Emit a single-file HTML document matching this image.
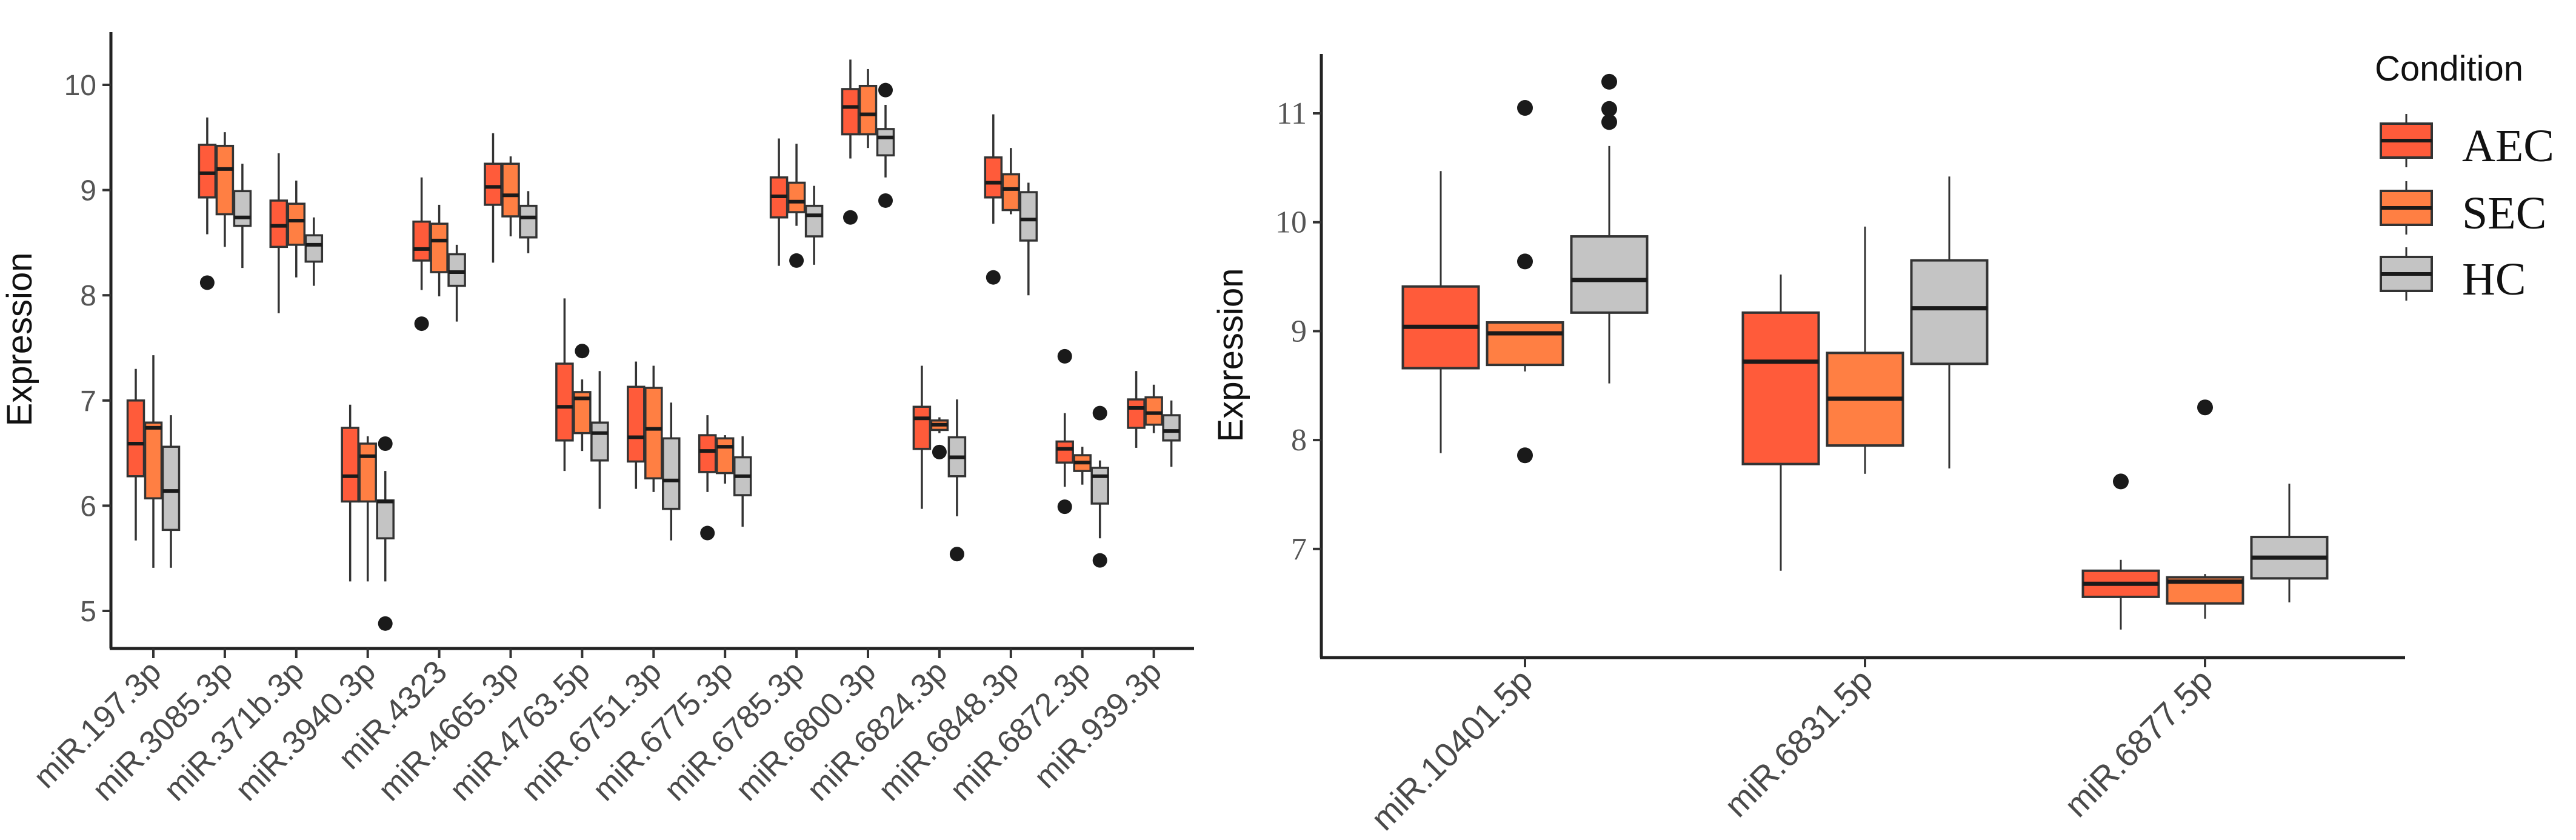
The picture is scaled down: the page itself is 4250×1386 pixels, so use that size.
<!DOCTYPE html>
<html><head><meta charset="utf-8"><style>
html,body{margin:0;padding:0;background:#fff}
svg{display:block}
</style></head><body>
<svg id="chart" width="4250" height="1386" viewBox="0 0 4250 1386" xmlns="http://www.w3.org/2000/svg">
<rect x="0" y="0" width="4250" height="1386" fill="#fff"/>
<g id="left"></g>
<g id="right"></g>
<g id="legend"></g>
</svg>
<script>
// ---- data (values: [lowWhisker, q1, median, q3, highWhisker]) ----
const conditions = ["AEC","SEC","HC"];
const leftCategories = ["miR.197.3p","miR.3085.3p","miR.371b.3p","miR.3940.3p","miR.4323","miR.4665.3p","miR.4763.5p","miR.6751.3p","miR.6775.3p","miR.6785.3p","miR.6800.3p","miR.6824.3p","miR.6848.3p","miR.6872.3p","miR.939.3p"];
const leftAEC = [[5.67,6.28,6.59,7.0,7.30],[8.58,8.93,9.16,9.43,9.69],[7.83,8.46,8.66,8.90,9.35],[5.28,6.04,6.28,6.74,6.96],[8.05,8.33,8.44,8.70,9.12],[8.31,8.86,9.03,9.25,9.54],[6.33,6.62,6.94,7.35,7.97],[6.16,6.42,6.65,7.13,7.37],[6.13,6.32,6.52,6.67,6.86],[8.28,8.74,8.94,9.12,9.49],[9.30,9.53,9.79,9.96,10.24],[5.97,6.54,6.83,6.94,7.33],[8.68,8.93,9.07,9.31,9.72],[6.18,6.41,6.54,6.61,6.88],[6.55,6.74,6.93,7.01,7.28]];
const leftSEC = [[5.41,6.07,6.74,6.79,7.43],[8.46,8.77,9.20,9.42,9.55],[8.17,8.48,8.71,8.87,9.09],[5.28,6.04,6.47,6.59,6.66],[7.99,8.22,8.52,8.68,8.86],[8.56,8.75,8.95,9.25,9.32],[6.52,6.69,7.02,7.08,7.20],[6.13,6.26,6.73,7.12,7.33],[6.21,6.31,6.56,6.64,6.67],[8.66,8.79,8.89,9.07,9.44],[9.40,9.53,9.72,9.99,10.15],[6.69,6.72,6.77,6.81,6.84],[8.77,8.81,9.01,9.15,9.40],[6.20,6.33,6.41,6.48,6.56],[6.69,6.77,6.88,7.03,7.15]];
const leftHC = [[5.41,5.77,6.14,6.56,6.86],[8.26,8.66,8.74,8.99,9.25],[8.09,8.32,8.48,8.57,8.74],[5.28,5.69,6.04,6.05,6.33],[7.75,8.09,8.22,8.39,8.48],[8.40,8.55,8.74,8.85,8.99],[5.97,6.43,6.69,6.79,7.28],[5.67,5.97,6.24,6.64,6.98],[5.80,6.10,6.28,6.46,6.66],[8.29,8.56,8.76,8.85,9.04],[9.12,9.33,9.50,9.58,9.81],[5.90,6.28,6.46,6.65,7.01],[8.00,8.52,8.72,8.98,9.07],[5.69,6.02,6.28,6.36,6.43],[6.37,6.62,6.71,6.86,7.00]];
const leftOutAEC = [[],[8.12],[],[],[7.73],[],[],[],[5.74],[],[8.74],[],[8.17],[7.42,5.99],[]];
const leftOutSEC = [[],[],[],[],[],[],[7.47],[],[],[8.33],[],[6.51],[],[],[]];
const leftOutHC = [[],[],[],[6.59,4.88],[],[],[],[],[],[],[9.95,8.90],[5.54],[],[6.88,5.48],[]];
const leftTicks = [5,6,7,8,9,10];

const rightCategories = ["miR.10401.5p","miR.6831.5p","miR.6877.5p"];
const rightAEC = [[7.88,8.66,9.04,9.41,10.47],[6.80,7.78,8.72,9.17,9.52],[6.26,6.56,6.68,6.80,6.90]];
const rightSEC = [[8.63,8.69,8.98,9.08,9.08],[7.69,7.95,8.38,8.80,9.96],[6.36,6.50,6.70,6.74,6.77]];
const rightHC = [[8.52,9.17,9.47,9.87,10.70],[7.74,8.70,9.21,9.65,10.42],[6.51,6.73,6.92,7.11,7.60]];
const rightOutAEC = [[],[],[7.62]];
const rightOutSEC = [[11.05,9.64,7.86],[],[8.30]];
const rightOutHC = [[11.29,11.04,10.92],[],[]];
const rightTicks = [7,8,9,10,11];

const fills = {AEC:"#ff5b3a", SEC:"#ff7f43", HC:"#c4c4c4"};
const NS = "http://www.w3.org/2000/svg";
function mk(parent, tag, attrs, text){
  const e = document.createElementNS(NS, tag);
  for (const k in attrs) e.setAttribute(k, attrs[k]);
  if (text !== undefined) e.textContent = text;
  parent.appendChild(e);
  return e;
}

function drawPanel(g, cfg){
  const y = v => cfg.yTop + (cfg.vTop - v) * cfg.pxPerUnit;
  const x = i => cfg.x0 + i * cfg.step;
  const ya = mk(g,"line",{x1:cfg.axX,y1:cfg.axTop,x2:cfg.axX,y2:cfg.axBottom,stroke:"#222","stroke-width":5});
   
  const xa = mk(g,"line",{x1:cfg.axX-2,y1:cfg.axBottom,x2:cfg.axRight,y2:cfg.axBottom,stroke:"#222","stroke-width":5});
   
  cfg.ticks.forEach(t=>{
    const tk = mk(g,"line",{x1:cfg.axX-14,y1:y(t),x2:cfg.axX,y2:y(t),stroke:"#333","stroke-width":4});
     
    const lb = mk(g,"text",{x:cfg.axX-24,y:y(t)+17,"text-anchor":"end","font-family":cfg.tickFont,"font-size":cfg.tickSize,fill:"#555"}, String(t));
     
  });
  const yt = mk(g,"text",{x:0,y:0,transform:`translate(${cfg.titleX},${cfg.titleY}) rotate(-90)`,"text-anchor":"middle","font-family":"Liberation Sans, sans-serif","font-size":58,fill:"#111"},"Expression");
   
  cfg.cats.forEach((c,i)=>{
    const cx = x(i);
    const tk = mk(g,"line",{x1:cx,y1:cfg.axBottom,x2:cx,y2:cfg.axBottom+16,stroke:"#333","stroke-width":4});
     
    const lb = mk(g,"text",{x:0,y:0,transform:`translate(${cx+16},${cfg.axBottom+42}) rotate(-45)`,"text-anchor":"end","font-family":"Liberation Sans, sans-serif","font-size":cfg.labSize,fill:"#4a4a4a"}, c);
     
    cfg.series.forEach((s,j)=>{
      const d = s.data[i];
      const bx = cx + (j-1)*cfg.offset;
      const hw = cfg.boxW/2;
      const grp = mk(g,"g",{});
      
      
      mk(grp,"line",{x1:bx,y1:y(d[4]),x2:bx,y2:y(d[3]),stroke:"#333","stroke-width":cfg.wLw});
      mk(grp,"line",{x1:bx,y1:y(d[1]),x2:bx,y2:y(d[0]),stroke:"#333","stroke-width":cfg.wLw});
      mk(grp,"rect",{x:bx-hw,y:y(d[3]),width:cfg.boxW,height:Math.max(1,y(d[1])-y(d[3])),fill:fills[s.name],stroke:"#333","stroke-width":cfg.bLw});
      mk(grp,"line",{x1:bx-hw,y1:y(d[2]),x2:bx+hw,y2:y(d[2]),stroke:"#1a1a1a","stroke-width":cfg.mLw});
      s.out[i].forEach(o=>{
        const pt = mk(grp,"circle",{cx:bx,cy:y(o),r:cfg.r,fill:"#1a1a1a"});
         
      });
    });
  });
}

drawPanel(document.getElementById('left'),{
  yTop:140, vTop:10, pxPerUnit:173.6, x0:253, step:117.9, offset:29, boxW:27,
  axX:183, axTop:53, axBottom:1070, axRight:1970, ticks:leftTicks,
  tickFont:"Liberation Sans, sans-serif", tickSize:48, titleX:52, titleY:560, labSize:53,
  cats:leftCategories, wLw:3.5, bLw:3.5, mLw:6, r:12,
  series:[{name:"AEC",data:leftAEC,out:leftOutAEC},{name:"SEC",data:leftSEC,out:leftOutSEC},{name:"HC",data:leftHC,out:leftOutHC}]
});
drawPanel(document.getElementById('right'),{
  yTop:187, vTop:11, pxPerUnit:179.7, x0:2516, step:561, offset:139, boxW:125,
  axX:2180, axTop:89, axBottom:1085, axRight:3968, ticks:rightTicks,
  tickFont:"Liberation Serif, serif", tickSize:52, titleX:2050, titleY:586, labSize:56,
  cats:rightCategories, wLw:3, bLw:4, mLw:7, r:13,
  series:[{name:"AEC",data:rightAEC,out:rightOutAEC},{name:"SEC",data:rightSEC,out:rightOutSEC},{name:"HC",data:rightHC,out:rightOutHC}]
});

const lg = document.getElementById('legend');
const lt = mk(lg,"text",{x:3918,y:133,"font-family":"Liberation Sans, sans-serif","font-size":58,fill:"#111"},"Condition");
 
const legendY = [204,315,424];
conditions.forEach((c,i)=>{
  const e = mk(lg,"g",{});
  
  
  const top = legendY[i], h = 56;
  mk(e,"line",{x1:3970,y1:top-16,x2:3970,y2:top+h+16,stroke:"#333","stroke-width":3});
  mk(e,"rect",{x:3928,y:top,width:84,height:h,fill:fills[c],stroke:"#333","stroke-width":4});
  mk(e,"line",{x1:3928,y1:top+h/2,x2:4012,y2:top+h/2,stroke:"#1a1a1a","stroke-width":6});
  mk(e,"text",{x:4062,y:top+h+6,"font-family":"Liberation Serif, serif","font-size":76,fill:"#111"},c);
});
</script>
</body></html>
